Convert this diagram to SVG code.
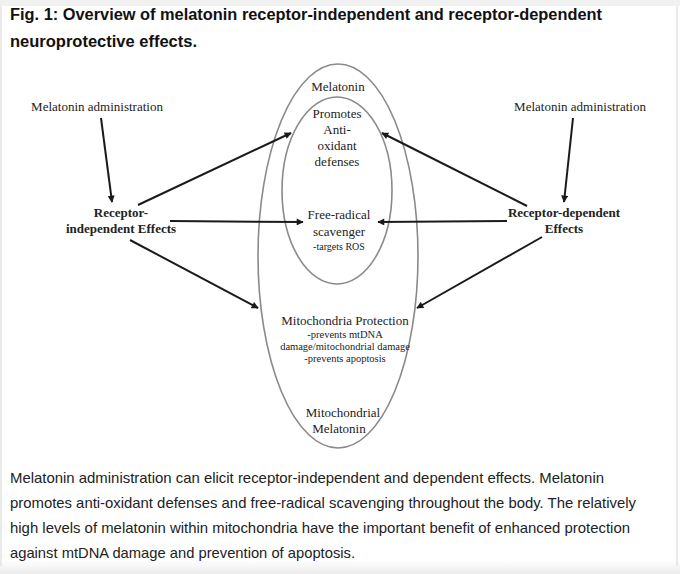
<svg xmlns="http://www.w3.org/2000/svg" width="680" height="574" viewBox="0 0 680 574">
<defs>
<style>
.t{font-family:"Liberation Serif","Times New Roman",serif;fill:#222;text-anchor:middle}
.n{font-size:13px}
.s{font-size:10.5px}
.b{font-size:13px;font-weight:bold}
.h{font-family:"Liberation Sans",Arial,Helvetica,sans-serif;fill:#111}
.cap{font-size:15px;fill:#222}
.ttl{font-size:16px;font-weight:bold}
.ell{fill:none;stroke:#8a8a8a;stroke-width:1.6}
.arr{stroke:#1a1a1a;stroke-width:2;fill:none;marker-end:url(#ah)}
</style>
<marker id="ah" viewBox="0 0 10 10" refX="9" refY="5" markerWidth="8" markerHeight="7" markerUnits="userSpaceOnUse" orient="auto">
<path d="M0,0 L10,5 L0,10 z" fill="#1a1a1a"/>
</marker>
<linearGradient id="bot" x1="0" y1="0" x2="0" y2="1">
<stop offset="0" stop-color="#ffffff"/>
<stop offset="1" stop-color="#ececec"/>
</linearGradient>
</defs>
<rect x="0" y="0" width="680" height="574" fill="#ffffff"/>
<rect x="0" y="0" width="680" height="6" fill="#f1f1f1"/>
<rect x="0" y="560" width="680" height="14" fill="url(#bot)"/>
<line x1="1" y1="6" x2="1" y2="566" stroke="#dddddd" stroke-width="1.2"/>
<line x1="677" y1="6" x2="677" y2="566" stroke="#dddddd" stroke-width="1.2"/>

<g id="title">
<text class="h ttl" x="10" y="20" textLength="592" lengthAdjust="spacingAndGlyphs">Fig. 1: Overview of melatonin receptor-independent and receptor-dependent</text>
<text class="h ttl" x="10" y="47" textLength="187" lengthAdjust="spacingAndGlyphs">neuroprotective effects.</text>
</g>

<g id="melatonin-outer">
<ellipse class="ell" cx="338" cy="256" rx="80" ry="192"/>
<text class="t n" x="338" y="91">Melatonin</text>
</g>
<g id="antioxidant-inner">
<ellipse class="ell" cx="337" cy="190.5" rx="55" ry="93.5"/>
<text class="t n" x="337" y="118">Promotes</text>
<text class="t n" x="337" y="134">Anti-</text>
<text class="t n" x="337" y="150">oxidant</text>
<text class="t n" x="337" y="166">defenses</text>
</g>
<g id="free-radical">
<text class="t n" x="339" y="219">Free-radical</text>
<text class="t n" x="339" y="236">scavenger</text>
<text class="t" style="font-size:10px" x="339" y="250">-targets ROS</text>
</g>
<g id="mito-protection">
<text class="t n" x="345" y="325">Mitochondria Protection</text>
<text class="t s" x="345" y="338">-prevents mtDNA</text>
<text class="t s" x="345" y="350">damage/mitochondrial damage</text>
<text class="t s" x="345" y="362">-prevents apoptosis</text>
</g>
<g id="mito-melatonin">
<text class="t n" x="343" y="417">Mitochondrial</text>
<text class="t n" x="339" y="433">Melatonin</text>
</g>

<g id="admin-left">
<text class="t n" x="97" y="111">Melatonin administration</text>
</g>
<g id="admin-right">
<text class="t n" x="580" y="111">Melatonin administration</text>
</g>
<g id="receptor-independent">
<text class="t b" x="121" y="217">Receptor-</text>
<text class="t b" x="121" y="233">independent Effects</text>
</g>
<g id="receptor-dependent">
<text class="t b" x="564" y="217">Receptor-dependent</text>
<text class="t b" x="564" y="233">Effects</text>
</g>

<g id="connectors">
<line class="arr" x1="101" y1="118" x2="112" y2="202"/>
<line class="arr" x1="138" y1="205" x2="291" y2="133"/>
<line class="arr" x1="170" y1="221" x2="303" y2="222"/>
<line class="arr" x1="130" y1="240" x2="258" y2="308"/>
<line class="arr" x1="573" y1="118" x2="564" y2="202"/>
<line class="arr" x1="527" y1="206" x2="382" y2="133"/>
<line class="arr" x1="507" y1="221" x2="378" y2="222"/>
<line class="arr" x1="542" y1="237" x2="417" y2="308"/>
</g>

<g id="caption">
<text class="h cap" x="10" y="483" textLength="594" lengthAdjust="spacingAndGlyphs">Melatonin administration can elicit receptor-independent and dependent effects. Melatonin</text>
<text class="h cap" x="10" y="508" textLength="626" lengthAdjust="spacingAndGlyphs">promotes anti-oxidant defenses and free-radical scavenging throughout the body. The relatively</text>
<text class="h cap" x="10" y="533" textLength="620" lengthAdjust="spacingAndGlyphs">high levels of melatonin within mitochondria have the important benefit of enhanced protection</text>
<text class="h cap" x="10" y="558" textLength="345" lengthAdjust="spacingAndGlyphs">against mtDNA damage and prevention of apoptosis.</text>
</g>
</svg>
